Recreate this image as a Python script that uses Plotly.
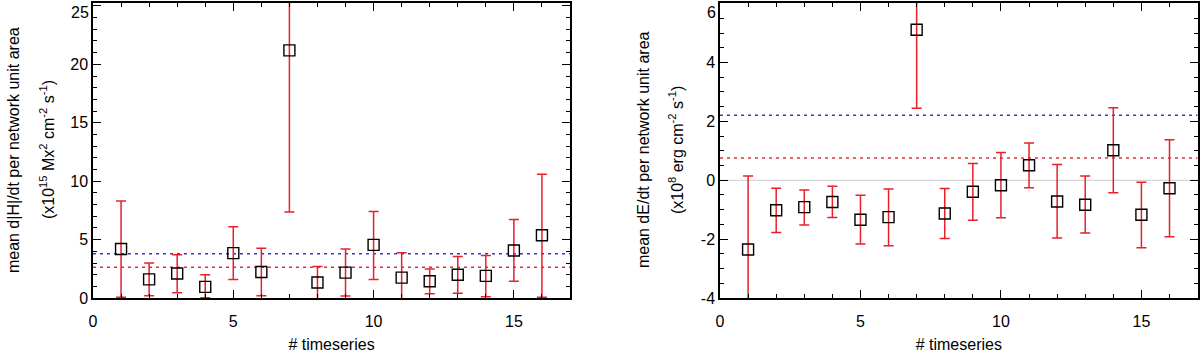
import plotly.graph_objects as go

# time series index
series = list(range(1, 17))

# left panel: mean d|H|/dt (x10^15 Mx^2 cm^-2 s^-1)
helicity_mean = [4.2, 1.6, 2.1, 0.96, 3.85, 2.23, 21.2, 1.33, 2.18, 4.55, 1.75, 1.44, 2.0, 1.9, 4.07, 5.37]
helicity_upper = [8.3, 3.0, 3.7, 2.0, 6.1, 4.26, 35.0, 2.7, 4.2, 7.4, 3.87, 2.48, 3.56, 3.64, 6.72, 10.6]
helicity_lower = [0.08, 0.2, 0.45, 0.02, 1.58, 0.2, 7.37, -0.1, 0.17, 1.58, -0.4, 0.37, 0.42, 0.11, 1.44, 0.08]
helicity_ref_blue = 3.8
helicity_ref_red = 2.63
helicity_ticks = [0, 5, 10, 15, 20, 25]

# right panel: mean dE/dt (x10^8 erg cm^-2 s^-1)
energy_mean = [-2.35, -1.02, -0.91, -0.74, -1.34, -1.25, 5.11, -1.13, -0.39, -0.17, 0.51, -0.72, -0.83, 1.02, -1.17, -0.27]
energy_upper = [0.145, -0.27, -0.33, -0.2, -0.51, -0.3, 7.8, -0.28, 0.57, 0.94, 1.27, 0.54, 0.145, 2.46, -0.07, 1.38]
energy_lower = [-4.85, -1.77, -1.52, -1.26, -2.16, -2.22, 2.45, -1.98, -1.36, -1.27, -0.25, -1.96, -1.79, -0.42, -2.29, -1.92]
energy_ref_blue = 2.21
energy_ref_red = 0.76
energy_ticks = [-4, -2, 0, 2, 4, 6]

RED = "#e8202a"
FONT = "Liberation Sans, Arial, sans-serif"
FS = 16


def points(mean, upper, lower, xa, ya):
    return go.Scatter(
        x=series,
        y=mean,
        mode="markers",
        marker=dict(symbol="square-open", size=11, color="black", line=dict(width=1.4, color="black")),
        error_y=dict(
            type="data",
            symmetric=False,
            array=[u - m for u, m in zip(upper, mean)],
            arrayminus=[m - l for m, l in zip(mean, lower)],
            color=RED,
            thickness=1.5,
            width=5,
        ),
        xaxis=xa,
        yaxis=ya,
        showlegend=False,
    )


def ref_line(y, color, xa, ya, dash="3px,4px", width=1.5):
    return go.Scatter(
        x=[0, 17],
        y=[y, y],
        mode="lines",
        line=dict(color=color, width=width, dash=dash),
        xaxis=xa,
        yaxis=ya,
        showlegend=False,
        hoverinfo="skip",
    )


fig = go.Figure()
fig.add_trace(ref_line(helicity_ref_blue, "#3a3ac8", "x", "y"))
fig.add_trace(ref_line(helicity_ref_red, "#e03040", "x", "y"))
fig.add_trace(points(helicity_mean, helicity_upper, helicity_lower, "x", "y"))

fig.add_trace(ref_line(0, "#cccccc", "x2", "y2", dash="solid", width=1))
fig.add_trace(ref_line(energy_ref_blue, "#3a3ac8", "x2", "y2"))
fig.add_trace(ref_line(energy_ref_red, "#e03040", "x2", "y2"))
fig.add_trace(points(energy_mean, energy_upper, energy_lower, "x2", "y2"))

axis_common = dict(
    showline=True,
    linecolor="black",
    linewidth=1.5,
    mirror="ticks",
    ticks="inside",
    ticklen=8,
    tickwidth=1.2,
    tickcolor="black",
    showgrid=False,
    zeroline=False,
    automargin=False,
    ticklabeloverflow="allow",
    tickfont=dict(family=FONT, size=FS, color="black"),
)

x_common = dict(
    axis_common,
    range=[0, 17],
    dtick=5,
    tick0=0,
    ticklabelstandoff=8,
    minor=dict(dtick=1, ticks="inside", ticklen=4, tickcolor="black", tickwidth=1),
    title=dict(text="# timeseries", font=dict(family=FONT, size=FS, color="black"), standoff=10),
)


def y_ticktext(vals):
    # the top label sits below its tick (drawn separately) so it is not cut at the page edge
    return [str(v) for v in vals[:-1]] + [""]


fig.update_layout(
    width=1200,
    height=354,
    margin=dict(l=0, r=0, t=0, b=0),
    paper_bgcolor="white",
    plot_bgcolor="white",
    xaxis=dict(x_common, domain=[0.0775, 0.475], anchor="y"),
    yaxis=dict(
        axis_common,
        domain=[0.158, 0.9915],
        anchor="x",
        range=[0, 25.25],
        tickvals=helicity_ticks,
        ticktext=y_ticktext(helicity_ticks),
        minor=dict(dtick=1, ticks="inside", ticklen=4, tickcolor="black", tickwidth=1),
    ),
    xaxis2=dict(x_common, domain=[0.6, 0.998], anchor="y2"),
    yaxis2=dict(
        axis_common,
        domain=[0.158, 0.9915],
        anchor="x2",
        range=[-4, 6.02],
        tickvals=energy_ticks,
        ticktext=y_ticktext(energy_ticks),
        minor=dict(dtick=0.5, ticks="inside", ticklen=4, tickcolor="black", tickwidth=1),
    ),
)

for top, xpix in [(helicity_ticks[-1], 91), (energy_ticks[-1], 718)]:
    fig.add_annotation(
        text=str(top), x=xpix / 1200, y=(354 - 12) / 354, xref="paper", yref="paper",
        xanchor="right", yanchor="middle", showarrow=False,
        font=dict(family=FONT, size=FS, color="black"),
    )

ylabels = [
    ("mean d|H|/dt per network unit area", 13),
    ("(x10<sup>15</sup> Mx<sup>2</sup> cm<sup>-2</sup> s<sup>-1</sup>)", 47),
    ("mean dE/dt per network unit area", 643),
    ("(x10<sup>8</sup> erg cm<sup>-2</sup> s<sup>-1</sup>)", 676),
]
for text, xpix in ylabels:
    fig.add_annotation(
        text=text, x=xpix / 1200, y=0.576, xref="paper", yref="paper",
        xanchor="center", yanchor="middle", textangle=-90, showarrow=False,
        font=dict(family=FONT, size=FS, color="black"),
    )

# drop the default page margin so the 1200x354 figure fills the window exactly
fig.write_html(
    "out.html",
    config={"displayModeBar": False},
    post_script="document.body.style.margin='0';document.body.style.overflow='hidden';",
)
